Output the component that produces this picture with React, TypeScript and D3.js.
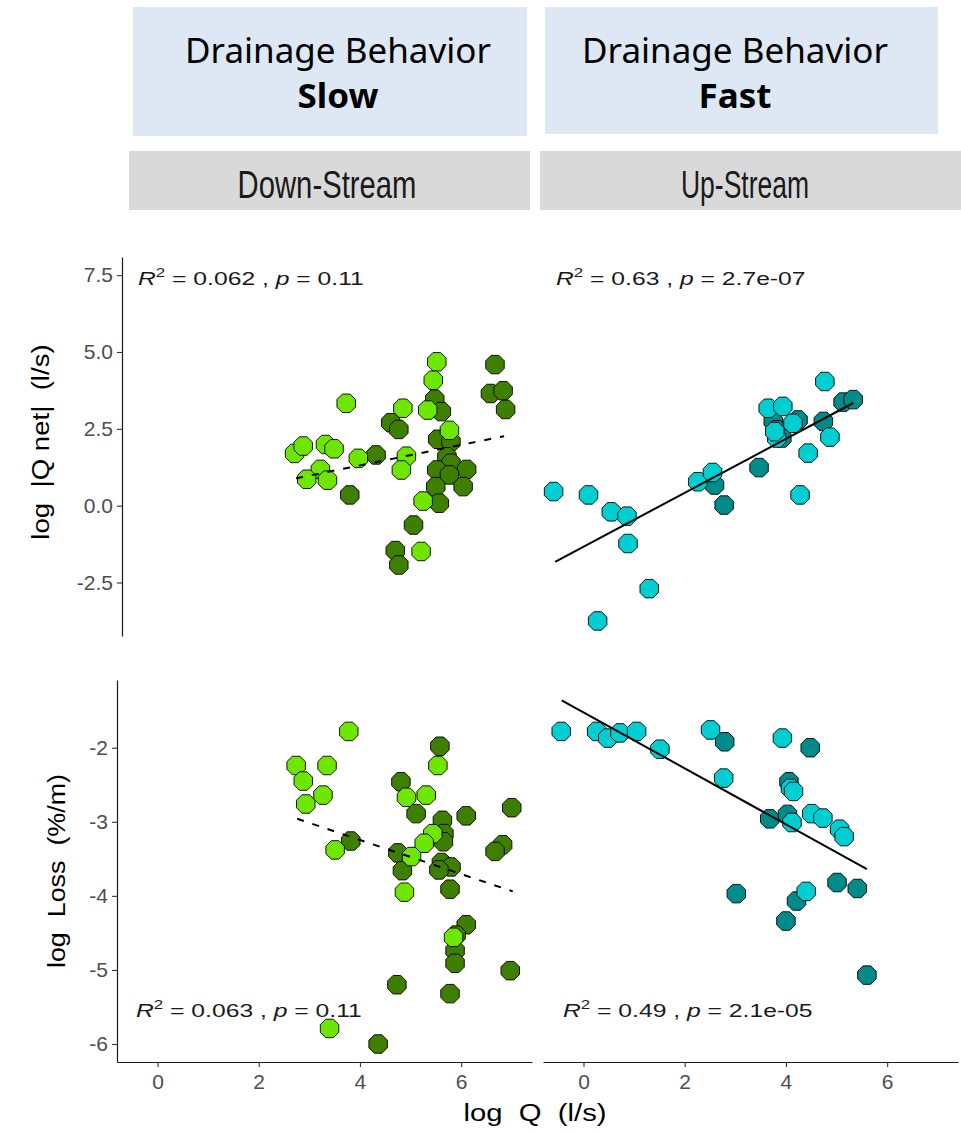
import React, { useEffect, useRef } from 'react';
import * as d3 from 'd3';

// data: [log Q, value]
const downQnetDark: [number, number][] = [
    [4.22, 1.65], [3.7, 0.35], [4.51, 2.7], [4.67, 2.48], [5.38, 3.46], [5.51, 3.06],
    [5.44, 2.16], [5.7, 2.08], [5.62, 1.59], [5.7, 1.38], [5.42, 1.16], [6.01, 1.18],
    [5.67, 1.0], [5.94, 0.62], [5.4, 0.62], [5.47, 0.08], [4.96, -0.63], [4.6, -1.46],
    [4.67, -1.93], [6.57, 4.59], [6.48, 3.65], [6.73, 3.74], [6.78, 3.13],
];
const downQnetLight: [number, number][] = [
    [2.61, 1.7], [2.78, 1.94], [3.22, 1.99], [3.39, 1.85], [3.12, 1.18], [2.85, 0.86],
    [3.26, 0.83], [3.63, 3.33], [3.87, 1.54], [4.75, 3.17], [4.82, 1.61], [4.72, 1.16],
    [5.42, 4.68], [5.35, 4.08], [5.24, 3.11], [5.67, 2.45], [5.15, 0.15], [5.11, -1.49],
];
const upQnetDark: [number, number][] = [
    [2.53, 0.67], [2.72, 0.02], [3.41, 1.24], [3.69, 2.74], [3.76, 2.47], [4.18, 2.79],
    [4.68, 2.74], [5.07, 3.37], [5.27, 3.45], [3.86, 2.2],
];
const upQnetLight: [number, number][] = [
    [-0.65, 0.46], [0.04, 0.35], [0.49, -0.2], [0.8, -0.34], [0.82, -1.23], [1.24, -2.7],
    [0.22, -3.75], [2.2, 0.78], [2.49, 1.08], [3.59, 3.17], [3.88, 3.23], [4.08, 2.68],
    [3.76, 2.2], [4.71, 4.04], [4.81, 2.23], [4.38, 1.71], [4.22, 0.35], [3.72, 2.41],
];
const downLossDark: [number, number][] = [
    [5.58, -1.98], [4.81, -2.46], [5.11, -2.89], [5.63, -2.98], [5.66, -3.16], [5.65, -3.27],
    [6.1, -2.92], [7.0, -2.81], [6.82, -3.31], [6.67, -3.4], [3.82, -3.26], [4.75, -3.42],
    [4.84, -3.66], [5.61, -3.55], [5.8, -3.61], [5.56, -3.65], [5.78, -3.91], [6.1, -4.39],
    [5.9, -4.53], [5.88, -4.74], [5.88, -4.91], [6.97, -5.01], [4.73, -5.2], [5.78, -5.32],
    [4.36, -6.0],
];
const downLossLight: [number, number][] = [
    [2.74, -2.24], [2.88, -2.45], [2.93, -2.76], [3.35, -2.24], [3.27, -2.64], [3.78, -1.78],
    [3.51, -3.38], [3.4, -5.79], [4.92, -2.67], [5.31, -2.64], [5.54, -2.24], [5.44, -3.16],
    [5.27, -3.29], [5.02, -3.47], [4.88, -3.95], [5.85, -4.56],
];
const upLossDark: [number, number][] = [
    [2.79, -1.92], [4.48, -2.0], [4.06, -2.46], [3.68, -2.96], [4.03, -2.9], [3.02, -3.97],
    [4.21, -4.07], [4.0, -4.34], [5.01, -3.82], [5.41, -3.9], [5.6, -5.07],
];
const upLossLight: [number, number][] = [
    [-0.44, -1.78], [0.26, -1.78], [0.48, -1.87], [0.72, -1.8], [1.05, -1.78], [1.51, -2.02],
    [2.51, -1.76], [2.77, -2.41], [3.93, -1.87], [4.09, -2.55], [4.15, -2.59], [4.51, -2.89],
    [4.73, -2.95], [4.12, -3.01], [5.06, -3.1], [5.15, -3.2], [4.4, -3.94],
];

// fitted lm lines: [x0, y0, x1, y1]
const downQnetFit = [2.64, 0.89, 6.75, 2.26];
const upQnetFit = [-0.62, -1.83, 5.27, 3.34];
const downLossFit = [2.76, -2.96, 7.02, -3.94];
const upLossFit = [-0.43, -1.36, 5.6, -3.64];

const statsText = [
    ['0.062', '0.11'],
    ['0.63', '2.7e-07'],
    ['0.063', '0.11'],
    ['0.49', '2.1e-05'],
];

const xTicks = [0, 2, 4, 6];
const qnetTicks = [-2.5, 0, 2.5, 5, 7.5];
const lossTicks = [-6, -5, -4, -3, -2];
const behaviors = ['Slow', 'Fast'];
const positions = ['Down-Stream', 'Up-Stream'];

const xDomain = [-0.8, 7.4];
const qnetDomain = [-4.24, 8.09];
const lossDomain = [-6.243, -1.086];

const lightGreen = '#6EE600';
const darkGreen = '#3F7F00';
const lightCyan = '#00CED1';
const darkCyan = '#008B8B';

const sans = 'Liberation Sans, Arial, sans-serif';

// octagon like the rasterised R points
const octagon = (() => {
    const r = 10;
    const pts = d3.range(8).map((i) => {
        const a = Math.PI / 8 + (i * Math.PI) / 4;
        return [r * Math.cos(a), r * Math.sin(a)] as [number, number];
    });
    return `${d3.line()(pts)}Z`;
})();

const drawHeaders = (svg) => {
    const blue = [[133, 7, 394, 129], [545, 7, 393, 127]];
    const blueCx = [338, 735];
    const grey = [[129, 151, 401, 59], [540, 151, 428, 59]];
    const greyCx = [327, 745];
    const greySx = [0.75, 0.68];
    behaviors.forEach((b, i) => {
        const [x, y, w, h] = blue[i];
        svg.append('rect').attr('x', x).attr('y', y).attr('width', w).attr('height', h)
            .attr('fill', '#DDE8F4');
        const t = svg.append('text')
            .attr('text-anchor', 'middle')
            .style('font-family', 'Noto Sans, Open Sans, sans-serif')
            .style('font-size', '34px')
            .attr('transform', `translate(${blueCx[i]},0) scale(1.03,1)`)
            .attr('fill', '#000');
        t.append('tspan').attr('x', 0).attr('y', 63).text('Drainage Behavior');
        t.append('tspan').attr('x', 0).attr('y', 108).attr('font-weight', 'bold').text(b);
    });
    positions.forEach((p, i) => {
        const [x, y, w, h] = grey[i];
        svg.append('rect').attr('x', x).attr('y', y).attr('width', w).attr('height', h)
            .attr('fill', '#D9D9D9');
        svg.append('text')
            .attr('transform', `translate(${greyCx[i]},198) scale(${greySx[i]},1)`)
            .attr('text-anchor', 'middle')
            .style('font-family', sans)
            .style('font-size', '39px')
            .attr('fill', '#1A1A1A')
            .text(p);
    });
};

const styleAxis = (g) => {
    g.select('.domain').attr('stroke', '#1A1A1A').attr('stroke-width', 1.2);
    g.selectAll('.tick line').attr('stroke', '#333').attr('stroke-width', 1.1);
    g.selectAll('.tick text')
        .attr('fill', '#4D4D4D')
        .style('font-family', sans)
        .style('font-size', '21px');
};

const drawPanel = (svg, p) => {
    const x = d3.scaleLinear().domain(xDomain).range(p.xr);
    const y = d3.scaleLinear().domain(p.yDomain).range(p.yr);

    if (p.yAxis) {
        const g = svg.append('g')
            .attr('transform', `translate(${p.xr[0]},0)`)
            .call(d3.axisLeft(y).tickValues(p.yTicks).tickSize(5).tickPadding(4)
                .tickSizeOuter(0).tickFormat(p.yFormat));
        styleAxis(g);
    }
    if (p.xAxis) {
        const g = svg.append('g')
            .attr('transform', `translate(0,${p.yr[0]})`)
            .call(d3.axisBottom(x).tickValues(xTicks).tickSize(5).tickPadding(4)
                .tickSizeOuter(0).tickFormat((d) => String(d)));
        styleAxis(g);
        g.selectAll('.tick text').attr('dy', '0.85em');
    }

    p.groups.forEach(([data, fill]) => {
        svg.append('g')
            .selectAll('path')
            .data(data)
            .enter()
            .append('path')
            .attr('d', octagon)
            .attr('transform', (d) => `translate(${x(d[0])},${y(d[1])})`)
            .attr('fill', fill)
            .attr('stroke', '#000')
            .attr('stroke-width', 0.9);
    });

    const f = p.fit;
    svg.append('line')
        .attr('x1', x(f[0])).attr('y1', y(f[1]))
        .attr('x2', x(f[2])).attr('y2', y(f[3]))
        .attr('stroke', '#000')
        .attr('stroke-width', 2)
        .attr('stroke-dasharray', p.dashed ? '7,9' : null);

    const t = svg.append('text')
        .attr('transform', `translate(${p.label[0]},${p.label[1]}) scale(1.3,1)`)
        .style('font-family', sans)
        .style('font-size', '19px')
        .attr('fill', '#1A1A1A');
    t.append('tspan').attr('font-style', 'italic').text('R');
    t.append('tspan').attr('dy', -8).style('font-size', '13px').text('2');
    t.append('tspan').attr('dy', 8).text(` = ${p.stats[0]} , `);
    t.append('tspan').attr('font-style', 'italic').text('p');
    t.append('tspan').text(` = ${p.stats[1]}`);
};

const drawTitles = (svg) => {
    const title = (txt, xx, yy, rot, sx) => svg.append('text')
        .attr('transform', `translate(${xx},${yy}) rotate(${rot}) scale(${sx},1)`)
        .attr('text-anchor', 'middle')
        .style('font-family', sans)
        .style('font-size', '24px')
        .style('white-space', 'pre')
        .attr('fill', '#000')
        .text(txt);
    title('log  |Q net|  (l/s)', 49, 442, -90, 1.15);
    title('log  Loss  (%/m)', 65, 871, -90, 1.12);
    title('log  Q  (l/s)', 535, 1121, 0, 1.22);
};

const Chart = () => {
    const ref = useRef(null);
    useEffect(() => {
        const svg = d3.select(ref.current);
        svg.selectAll('*').remove();
        drawHeaders(svg);
        const panels = [
            {
                xr: [122, 537], yr: [636, 257], yDomain: qnetDomain, yTicks: qnetTicks,
                yFormat: (d) => d.toFixed(1), yAxis: true, xAxis: false,
                groups: [[downQnetDark, darkGreen], [downQnetLight, lightGreen]],
                fit: downQnetFit, dashed: true, label: [138, 285], stats: statsText[0],
            },
            {
                xr: [546, 961], yr: [636, 257], yDomain: qnetDomain, yTicks: qnetTicks,
                yFormat: (d) => d.toFixed(1), yAxis: false, xAxis: false,
                groups: [[upQnetDark, darkCyan], [upQnetLight, lightCyan]],
                fit: upQnetFit, dashed: false, label: [556, 285], stats: statsText[1],
            },
            {
                xr: [117, 532], yr: [1062, 680], yDomain: lossDomain, yTicks: lossTicks,
                yFormat: (d) => String(d), yAxis: true, xAxis: true,
                groups: [[downLossDark, darkGreen], [downLossLight, lightGreen]],
                fit: downLossFit, dashed: true, label: [136, 1017], stats: statsText[2],
            },
            {
                xr: [543, 958], yr: [1062, 680], yDomain: lossDomain, yTicks: lossTicks,
                yFormat: (d) => String(d), yAxis: false, xAxis: true,
                groups: [[upLossDark, darkCyan], [upLossLight, lightCyan]],
                fit: upLossFit, dashed: false, label: [563, 1017], stats: statsText[3],
            },
        ];
        panels.forEach((p) => drawPanel(svg, p));
        drawTitles(svg);
    }, []);

    return (
        <svg ref={ref} width={961} height={1133}
            style={{ position: 'absolute', left: 0, top: 0, background: '#fff' }} />
    );
};

export default function App() {
    return <Chart />;
}
